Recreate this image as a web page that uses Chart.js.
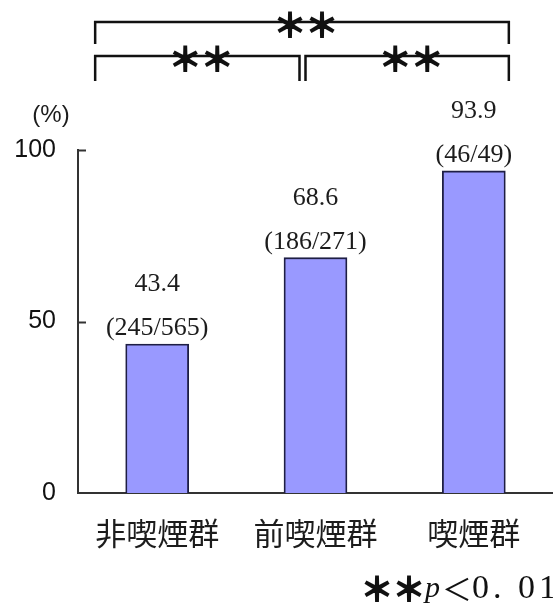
<!DOCTYPE html>
<html>
<head>
<meta charset="utf-8">
<script src="https://cdn.jsdelivr.net/npm/chart.js@4.4.0/dist/chart.umd.min.js"></script>
<style>
    html, body { margin: 0; padding: 0; background: #fff; }
    #wrap { width: 553px; height: 603px; }
</style>
</head>
<body>
<div id="wrap"><canvas id="smokeChart" width="553" height="603"></canvas></div>
<script>
// datos del gráfico
const groups = ['非喫煙群', '前喫煙群', '喫煙群'];
const rates = [43.4, 68.6, 93.9];
const counts = ['(245/565)', '(186/271)', '(46/49)'];
const yTicks = [0, 50, 100];
// pares comparados: [desde, hasta]
const pairs = [[0, 2], [0, 1], [1, 2]];
const sigMark = '＊＊';
const pNote = ['＊＊', 'p', '＜', '0. 01'];

const INK = '#1c1c1c';
const CJK = '"Noto Sans CJK JP", "Noto Sans CJK SC", sans-serif';
const SERIF = '"Liberation Serif", "DejaVu Serif", serif';

// asteriscos gruesos: relleno + trazo
function heavyText(ctx, text, px, py) {
    ctx.lineWidth = 2.2;
    ctx.strokeText(text, px, py);
    ctx.fillText(text, px, py);
}

// textos y corchetes sobre el gráfico
const annotations = {
    id: 'annotations',
    afterDraw(chart) {
        const ctx = chart.ctx;
        const x = chart.scales.x;
        const y = chart.scales.y;
        const area = chart.chartArea;
        ctx.save();

        // marcas del eje Y hacia adentro
        ctx.strokeStyle = '#333';
        ctx.lineWidth = 2;
        yTicks.forEach(v => {
            if (v === 0) return;
            const py = Math.round(y.getPixelForValue(v)) + 0.5;
            ctx.beginPath();
            ctx.moveTo(area.left, py);
            ctx.lineTo(area.left + 8, py);
            ctx.stroke();
        });

        // (%)
        ctx.fillStyle = INK;
        ctx.font = '24px "Liberation Sans", Arial, sans-serif';
        ctx.textAlign = 'center';
        ctx.textBaseline = 'middle';
        ctx.fillText('(%)', 51, 115);

        // valores sobre cada barra
        ctx.font = '26px ' + SERIF;
        rates.forEach((v, i) => {
            const px = x.getPixelForValue(i);
            const top = y.getPixelForValue(v);
            ctx.fillText(v.toFixed(1), px, top - 60);
            ctx.fillText(counts[i], px, top - 16);
        });

        // corchetes de significancia
        const left = x.getPixelForValue(0) - 62;
        const right = x.getPixelForValue(2) + 35;
        const mid = x.getPixelForValue(1) - 13;
        const spans = {
            '0-2': [left, right, 22, 44],
            '0-1': [left, mid - 3, 56, 81],
            '1-2': [mid + 3, right, 56, 81]
        };
        pairs.forEach(p => {
            const [x0, x1, yl, yb] = spans[p[0] + '-' + p[1]];
            ctx.strokeStyle = '#111';
            ctx.lineWidth = 2.5;
            ctx.beginPath();
            ctx.moveTo(x0, yb);
            ctx.lineTo(x0, yl);
            ctx.lineTo(x1, yl);
            ctx.lineTo(x1, yb);
            ctx.stroke();
            ctx.font = '32px ' + CJK;
            ctx.fillStyle = '#111';
            heavyText(ctx, sigMark, (x0 + x1) / 2 + 4, yl + 3);
        });

        // nota al pie: **p<0.01
        ctx.textAlign = 'left';
        const fonts = ['32px ' + CJK, 'italic 30px ' + SERIF, '30px ' + CJK, '34px ' + SERIF];
        let cx = 361;
        pNote.forEach((t, i) => {
            ctx.font = fonts[i];
            if (i === 0) {
                heavyText(ctx, t, cx, 589);
            } else if (i === 3) {
                ctx.letterSpacing = '4px';
                ctx.fillText(t, cx, 589);
                ctx.letterSpacing = '0px';
            } else {
                ctx.fillText(t, cx, 589);
            }
            cx += ctx.measureText(t).width + (i === 1 ? 2 : 0);
        });

        ctx.restore();
    }
};

new Chart(document.getElementById('smokeChart').getContext('2d'), {
    type: 'bar',
    data: {
        labels: groups,
        datasets: [{
            data: rates,
            backgroundColor: '#9999ff',
            borderColor: '#1e1e44',
            borderWidth: 1.8,
            barThickness: 63
        }]
    },
    options: {
        responsive: false,
        animation: false,
        layout: { padding: { top: 150, right: 0, bottom: 0, left: 0 } },
        plugins: {
            legend: { display: false },
            tooltip: { enabled: false }
        },
        scales: {
            x: {
                grid: { display: false, drawTicks: false },
                border: { display: true, color: '#333', width: 2 },
                ticks: {
                    font: { family: CJK, size: 31 },
                    color: INK,
                    padding: 22,
                    maxRotation: 0
                },
                afterFit(scale) { scale.height = 110; }
            },
            y: {
                min: 0,
                max: 100,
                grid: { display: false, drawTicks: false },
                border: { display: true, color: '#333', width: 2 },
                ticks: {
                    font: { family: '"Liberation Sans", Arial, sans-serif', size: 25 },
                    color: '#111',
                    padding: 22
                },
                afterBuildTicks(scale) { scale.ticks = yTicks.map(v => ({ value: v })); },
                afterFit(scale) { scale.width = 78; }
            }
        }
    },
    plugins: [annotations]
});
</script>
</body>
</html>
